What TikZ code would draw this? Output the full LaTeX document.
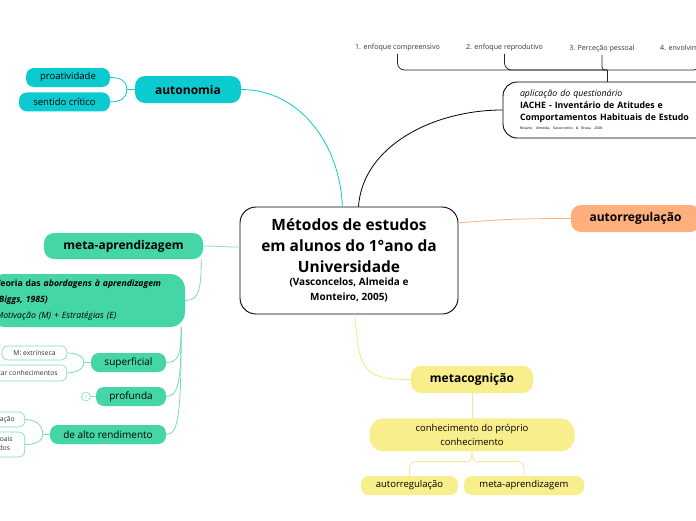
\documentclass[tikz,border=0pt]{standalone}
\usepackage{fontspec}
\setmainfont{Open Sans}
\usepackage{xcolor}
\usetikzlibrary{positioning}

\definecolor{cyantopic}{HTML}{0BCAD0}
\definecolor{greentopic}{HTML}{44D6A7}
\definecolor{greenline}{HTML}{7ADDBC}
\definecolor{orangetopic}{HTML}{FDB07C}
\definecolor{yellowtopic}{HTML}{F9EE8C}
\definecolor{yellowline}{HTML}{F4E88E}
\definecolor{darktext}{HTML}{333333}

\begin{document}
\begin{tikzpicture}[x=1pt, y=-1pt,
    topic/.style={rounded corners=10pt, inner sep=0pt, align=center, font=\fontsize{12}{14}\selectfont\bfseries},
    subtopic/.style={rounded corners=8pt, inner sep=0pt, align=center, font=\fontsize{9.5}{14}\selectfont},
    leaf/.style={draw=greenline, fill=white, line width=0.6pt, rounded corners=6pt, inner ysep=0pt, inner xsep=9pt, align=center, text=darktext, font=\fontsize{6.8}{9}\selectfont},
    item_label/.style={inner sep=2pt, text=darktext, font=\fontsize{7.1}{9}\selectfont},
    link/.style={line width=0.8pt}
]
\path[use as bounding box, fill=white] (0,0) rectangle (696,520);

% Central topic
\node[draw=black, fill=white, line width=0.9pt, rounded corners=16pt, minimum width=218pt, minimum height=107pt, align=center, inner sep=0pt, font=\fontsize{15.5}{21}\selectfont\bfseries] (centre) at (349,260.5)
  {Métodos de estudos\\em alunos do 1°ano da\\Universidade\\[-8pt]{\fontsize{10}{14}\selectfont (Vasconcelos, Almeida e}\\[-6pt]{\fontsize{10}{14}\selectfont Monteiro, 2005)}};

% autonomia
\node[topic, fill=cyantopic, minimum width=106pt, minimum height=27pt] (autonomia) at (188,89.5) {autonomia};
\node[subtopic, fill=cyantopic, minimum width=84pt, minimum height=19pt] (proatividade) at (68,77.5) {proatividade};
\node[subtopic, fill=cyantopic, minimum width=91pt, minimum height=19pt, below=5pt of proatividade.south east, anchor=north east] (sentido) {sentido crítico};

% questionario
\node[draw=black, fill=white, line width=0.9pt, rounded corners=14pt, minimum width=208pt, minimum height=56pt, text width=174pt, inner xsep=17pt, inner ysep=0pt, align=left, font=\fontsize{8.8}{12}\selectfont] (iache) at (607,110)
  {\textit{aplicação do questionário}\\\textbf{IACHE - Inventário de Atitudes e}\\\textbf{Comportamentos Habituais de Estudo}\\[-3pt]{\fontsize{3.5}{5}\selectfont Rosário, Almeida, Vasconcelos \& Brasa, 2008}};
\node[item_label] (item1) at (397.5,48) {1. enfoque compreensivo};
\node[item_label] (item2) at (504.5,48) {2. enfoque reprodutivo};
\node[item_label] (item3) at (602,49) {3. Perceção pessoal};
\node[item_label, anchor=west] (item4) at (658,49) {4. envolvimento pessoal};
\coordinate (topjoin) at (607,70);

% autorregulacao
\node[topic, fill=orangetopic, minimum width=129pt, minimum height=27pt] (autorreg) at (635.5,218.5) {autorregulação};

% meta-aprendizagem
\node[topic, fill=greentopic, minimum width=159pt, minimum height=26pt] (meta) at (123.5,246) {meta-aprendizagem};
\node[fill=greentopic, rounded corners=15pt, minimum width=195pt, minimum height=53pt, text width=183pt, inner xsep=6pt, inner ysep=0pt, align=left, font=\fontsize{8.7}{16}\selectfont] (teoria) at (87.5,300.5)
  {\textbf{Teoria das \textit{abordagens à aprendizagem}}\\\textbf{\textit{(Biggs, 1985)}}\\\textit{Motivação (M) + Estratégias (E)}};
\node[subtopic, fill=greentopic, font=\fontsize{10}{14}\selectfont, minimum width=75pt, minimum height=19pt] (superficial) at (128.5,362.5) {superficial};
\node[subtopic, fill=greentopic, font=\fontsize{10}{14}\selectfont, minimum width=70pt, minimum height=19pt] (profunda) at (131,396.5) {profunda};
\node[subtopic, fill=greentopic, font=\fontsize{10}{14}\selectfont, minimum width=116pt, minimum height=19pt] (alto) at (108,434.5) {de alto rendimento};
\node[leaf, minimum width=65pt, minimum height=14pt] (extrinseca) at (34.5,353) {M: extrínseca};
\node[leaf, minimum height=16pt, anchor=east] (memorizar) at (67,373) {E: memorizar conhecimentos};
\node[circle, draw=greenline, fill=white, line width=0.6pt, inner sep=0pt, minimum size=9pt, text=greenline, font=\fontsize{5}{5}\selectfont] (fold) at (86,396.5) {2};
\node[leaf, inner xsep=10pt, minimum height=15pt, anchor=east] (realizacao) at (25,419.5) {M: realização};
\node[leaf, inner xsep=12pt, minimum height=25pt, anchor=east] (metodos) at (25,444.5) {E: hábitos pessoais\\bem organizados};

% metacognicao
\node[topic, fill=yellowtopic, minimum width=122pt, minimum height=27pt] (metacog) at (472,379.5) {metacognição};
\node[subtopic, fill=yellowtopic, font=\fontsize{9.5}{14}\selectfont, minimum width=205pt, minimum height=33pt, rounded corners=14pt, below=25pt of metacog] (conh) {conhecimento do próprio\\conhecimento};
\node[subtopic, fill=yellowtopic, minimum width=97pt, minimum height=19pt] (autorreg2) at (409.5,485.5) {autorregulação};
\node[subtopic, fill=yellowtopic, minimum width=120pt, minimum height=19pt] (meta2) at (524,485.5) {meta-aprendizagem};

% Branches from the centre
\draw[link, cyantopic] (autonomia.east) .. controls +(60,0) and +(-2,-60) .. (centre.97);
\draw[link, black] (centre.80) .. controls +(4,-60) and +(-70,0) .. (iache.west);
\draw[link, orangetopic] (centre.19) .. controls +(40,-3) and +(-60,0) .. (autorreg.west);
\draw[link, greenline] (meta.east) .. controls +(15,0) and +(-15,0) .. (centre.173);
\draw[link, yellowline] (centre.-84) .. controls +(5,55) and +(-50,0) .. (metacog.west);

% autonomia children
\path (autonomia.west) ++(-8,0) coordinate (autojoin);
\draw[link, cyantopic] (autonomia.west) -- (autojoin);
\draw[link, cyantopic] (autojoin) .. controls +(0,-9) and +(10,0) .. (proatividade.east);
\draw[link, cyantopic] (autojoin) .. controls +(0,9) and +(10,0) .. (sentido.east);

% questionario items
\draw[link, black!85] (iache.north) -- (topjoin);
\draw[link, black!85, rounded corners=7pt] (item1.south) |- (topjoin);
\draw[link, black!85, rounded corners=7pt] (item2.south) |- (topjoin);
\draw[link, black!85, rounded corners=3pt] (item3.south) |- (topjoin);
\draw[link, black!85, rounded corners=7pt] (item4.south) |- (topjoin);

% meta-aprendizagem children
\draw[link, greenline] ([xshift=-2pt]meta.south east) .. controls +(0,30) and +(14,0) .. (teoria.east);
\draw[link, greenline] ([xshift=-4pt]teoria.south east) .. controls +(0,28) and +(12,0) .. (superficial.east);
\draw[link, greenline] ([xshift=-4pt]teoria.south east) .. controls +(0,55) and +(12,0) .. (profunda.east);
\draw[link, greenline] ([xshift=-4pt]teoria.south east) .. controls +(0,90) and +(12,0) .. (alto.east);
\path (superficial.west) ++(-7,0) coordinate (supjoin);
\draw[link, greenline] (superficial.west) -- (supjoin);
\draw[link, greenline] (supjoin) .. controls +(0,-7) and +(8,0) .. (extrinseca.east);
\draw[link, greenline] (supjoin) .. controls +(0,7) and +(8,0) .. (memorizar.east);
\draw[link, greenline] (fold) -- (profunda);
\path (alto.west) ++(-7,0) coordinate (altojoin);
\draw[link, greenline] (alto.west) -- (altojoin);
\draw[link, greenline] (altojoin) .. controls +(0,-10) and +(10,0) .. (realizacao.east);
\draw[link, greenline] (altojoin) .. controls +(0,7) and +(10,0) .. (metodos.east);

% metacognicao children
\draw[link, yellowline] (metacog.south) -- (metacog.south |- conh.north);
\draw[link, yellowline, rounded corners=6pt] (conh.south) -- ++(0,10) -| (autorreg2.north);
\draw[link, yellowline, rounded corners=6pt] (conh.south) -- ++(0,10) -| (meta2.north);

\end{tikzpicture}
\end{document}
